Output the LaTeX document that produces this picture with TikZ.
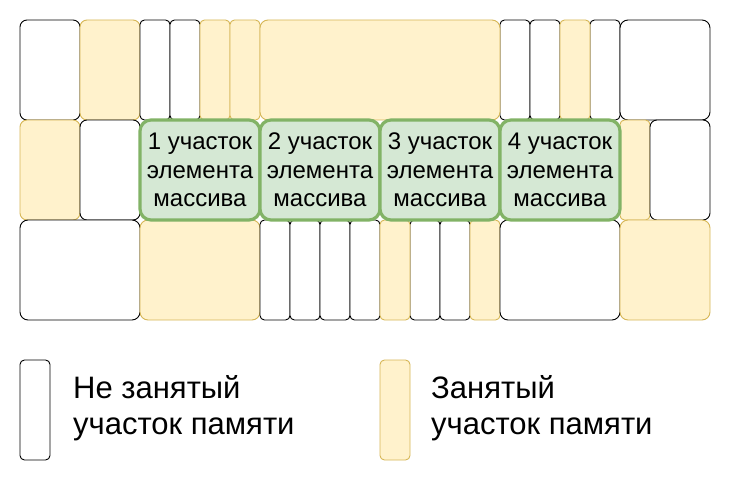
\documentclass[tikz,border=0pt]{standalone}
\usepackage{fontspec}
\setsansfont{Liberation Sans}
\usepackage{tikz}
\definecolor{BusyFill}{HTML}{FFF2CC}
\definecolor{BusyLine}{HTML}{D6B656}
\definecolor{PartFill}{HTML}{D5E8D4}
\definecolor{PartLine}{HTML}{82B366}

\begin{document}
\begin{tikzpicture}[x=1pt,y=-1pt, every node/.style={font=\sffamily},
  free/.style={draw=black, fill=white, line width=0.9pt},
  busy/.style={draw=BusyLine, fill=BusyFill, line width=0.9pt},
  part/.style={draw=PartLine, fill=PartFill, line width=3.2pt, rounded corners=11pt,
    minimum width=120pt, minimum height=100pt, align=center,
    font=\sffamily\fontsize{24}{28.3}\selectfont},
  legendtext/.style={anchor=west, inner sep=0pt, align=left,
    font=\sffamily\fontsize{31}{36}\selectfont}]
  \useasboundingbox (0,0) rectangle (731,481);
  % upper row
  \draw[free, rounded corners=7pt] (20,20) rectangle (80,120);
  \draw[busy, rounded corners=7pt] (80,20) rectangle (140,120);
  \foreach \x in {140,170,500,530,590}
    \draw[free, rounded corners=4.5pt] (\x,20) rectangle ++(30,100);
  \foreach \x in {200,230,560}
    \draw[busy, rounded corners=4.5pt] (\x,20) rectangle ++(30,100);
  \draw[busy, rounded corners=8pt] (260,20) rectangle (500,120);
  \draw[free, rounded corners=8pt] (620,20) rectangle (710,120);
  % middle row
  \draw[busy, rounded corners=7pt] (20,120) rectangle (80,220);
  \draw[free, rounded corners=7pt] (80,120) rectangle (140,220);
  \draw[busy, rounded corners=4.5pt] (620,120) rectangle (650,220);
  \draw[free, rounded corners=7pt] (650,120) rectangle (710,220);
  % lower row
  \draw[free, rounded corners=8pt] (20,220) rectangle (140,320);
  \draw[busy, rounded corners=8pt] (140,220) rectangle (260,320);
  \foreach \x in {260,290,320,350,410,440}
    \draw[free, rounded corners=4.5pt] (\x,220) rectangle ++(30,100);
  \foreach \x in {380,470}
    \draw[busy, rounded corners=4.5pt] (\x,220) rectangle ++(30,100);
  \draw[free, rounded corners=8pt] (500,220) rectangle (620,320);
  \draw[busy, rounded corners=8pt] (620,220) rectangle (710,320);
  % array element parts
  \foreach \n/\x in {1/200,2/320,3/440,4/560}
    \node[part] (part\n) at (\x,170) {\n\ участок\\элемента\\массива};
  % legend
  \draw[free, rounded corners=4.5pt] (20,360) rectangle (50,460);
  \node[legendtext] (freelabel) at (73,408) {Не занятый\\участок памяти};
  \draw[busy, rounded corners=4.5pt] (380,360) rectangle (410,460);
  \node[legendtext] (busylabel) at (431,408) {Занятый\\участок памяти};
\end{tikzpicture}
\end{document}
